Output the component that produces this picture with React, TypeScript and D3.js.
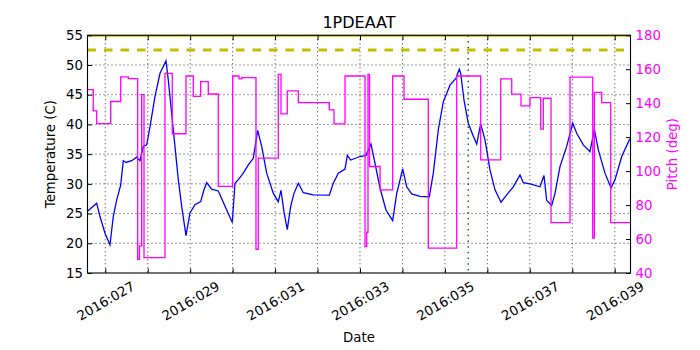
import React, { useEffect, useRef } from "react";
import * as d3 from "d3";

// temperature samples (day of year 2016, deg C)
const tempDays = [
  26.581, 26.797, 26.875, 26.993, 27.111, 27.188, 27.269, 27.363, 27.424, 27.488,
  27.622, 27.74, 27.817, 27.895, 27.975, 28.053, 28.171, 28.289, 28.43, 28.484,
  28.602, 28.72, 28.8, 28.901, 28.995, 29.113, 29.247, 29.325, 29.389, 29.506,
  29.662, 29.86, 29.992, 30.055, 30.133, 30.251, 30.369, 30.486, 30.59, 30.684,
  30.802, 30.958, 31.075, 31.139, 31.21, 31.287, 31.367, 31.445, 31.547, 31.664,
  31.9, 32.277, 32.371, 32.489, 32.647, 32.701, 32.781, 33.0, 33.141, 33.259,
  33.353, 33.471, 33.612, 33.77, 33.865, 34.006, 34.1, 34.218, 34.413, 34.633,
  34.727, 34.845, 34.962, 35.12, 35.262, 35.339, 35.372, 35.45, 35.551, 35.669,
  35.749, 35.843, 35.945, 36.062, 36.18, 36.322, 36.456, 36.611, 36.769, 36.847,
  37.005, 37.24, 37.334, 37.398, 37.516, 37.594, 37.711, 37.869, 38.011, 38.105,
  38.26, 38.418, 38.52, 38.614, 38.771, 38.913, 39.007, 39.165, 39.344, 39.372,
];
const tempValues = [
  25.4, 26.75, 24.5, 21.7, 19.75, 24.5, 27.3, 29.8, 33.9, 33.6,
  33.9, 34.5, 33.9, 36.3, 36.55, 39.6, 44.7, 48.6, 50.7, 47.5,
  39.1, 30.7, 26.2, 21.3, 25.1, 26.5, 27.0, 29.0, 30.2, 29.1,
  28.8, 25.6, 23.5, 30.1, 30.7, 31.8, 33.2, 34.3, 39.0, 36.3,
  31.8, 28.4, 27.0, 28.9, 25.3, 22.3, 26.2, 28.4, 30.1, 28.5,
  28.15, 28.1, 30.1, 31.8, 32.5, 34.8, 34.0, 34.6, 34.8, 36.7,
  33.5, 29.3, 25.6, 23.8, 28.4, 32.5, 29.5, 28.3, 27.9, 27.8,
  31.8, 39.1, 43.8, 46.6, 47.8, 49.3, 48.6, 44.1, 40.2, 38.0,
  36.7, 40.1, 37.4, 32.35, 29.0, 26.9, 28.15, 29.5, 31.5, 30.2,
  30.0, 29.5, 31.4, 27.2, 26.35, 28.4, 32.9, 36.3, 40.2, 38.5,
  36.55, 35.4, 39.2, 35.7, 31.8, 29.3, 30.7, 34.6, 37.4, 37.6,
];

// pitch attitude segments (start day, deg)
const pitchDays = [
  26.581, 26.717, 26.797, 27.127, 27.363, 27.542, 27.763, 27.806, 27.857, 27.912,
  28.406, 28.578, 28.901, 29.073, 29.247, 29.426, 29.662, 30.001, 30.15, 30.213,
  30.55, 30.604, 31.075, 31.139, 31.287, 31.547, 32.277, 32.388, 32.647, 33.118,
  33.158, 33.188, 33.225, 33.473, 33.77, 34.037, 34.609, 35.278, 35.843, 36.315,
  36.574, 36.793, 37.005, 37.257, 37.318, 37.5, 37.947, 38.482, 38.52, 38.694,
  38.906, 39.372,
];
const pitchValues = [
  148, 135.5, 128, 141, 155.5, 154.5, 48, 56, 145, 49,
  157.5, 122, 156, 144, 152.7, 145.4, 91, 156, 154.3, 155,
  54, 107.6, 157, 133.7, 147.2, 140.3, 136, 127.8, 156, 55.6,
  64, 157, 102.7, 89, 156, 142.3, 54.7, 156, 106.6, 154.3,
  145.3, 138.4, 143.3, 124.7, 142.9, 69.7, 155.3, 60.6, 146.4, 140.3,
  69.7, 69.7,
];

const dayTicks = [27, 28, 29, 30, 31, 32, 33, 34, 35, 36, 37, 38, 39];
const tempTicks = [15, 20, 25, 30, 35, 40, 45, 50, 55];
const pitchTicks = [40, 60, 80, 100, 120, 140, 160, 180];
const dayRange = [26.581, 39.372];
const planningLimit = 55;
const cautionLimit = 52.5;
const nowDay = 35.55;

const FONT = "DejaVu Sans, sans-serif";

const App = () => {
  const chartRef = useRef<SVGSVGElement>(null);

  useEffect(() => {
    drawChart();
  }, []);

  const drawChart = () => {
    const width = 700;
    const height = 350;
    const margin = { top: 35.25, right: 69.5, bottom: 77, left: 87.5 };
    const w = width - margin.left - margin.right;
    const h = height - margin.top - margin.bottom;

    const root = d3.select(chartRef.current);
    root.selectAll("*").remove();
    root
      .attr("width", width)
      .attr("height", height)
      .style("position", "absolute")
      .style("left", 0)
      .style("top", 0)
      .style("background", "#fff");

    const svg = root
      .append("g")
      .attr("transform", `translate(${margin.left},${margin.top})`);

    const x = d3.scaleLinear().domain(dayRange).range([0, w]);
    const y = d3.scaleLinear().domain([15, 55]).range([h, 0]);
    const y2 = d3.scaleLinear().domain([40, 180]).range([h, 0]);

    // dotted grid
    svg
      .append("g")
      .selectAll("line")
      .data(dayTicks)
      .join("line")
      .attr("x1", (d) => x(d))
      .attr("x2", (d) => x(d))
      .attr("y1", 0)
      .attr("y2", h)
      .attr("stroke", "#000")
      .attr("stroke-width", 0.8)
      .attr("stroke-dasharray", "1,3");
    svg
      .append("g")
      .selectAll("line")
      .data(tempTicks.slice(1, -1))
      .join("line")
      .attr("x1", 0)
      .attr("x2", w)
      .attr("y1", (d) => y(d))
      .attr("y2", (d) => y(d))
      .attr("stroke", "#000")
      .attr("stroke-width", 0.8)
      .attr("stroke-dasharray", "1,3");

    const lineTemp = d3
      .line<number>()
      .x((d, i) => x(tempDays[i]))
      .y((d) => y(d));

    svg
      .append("path")
      .datum(tempValues)
      .attr("fill", "none")
      .attr("stroke", "#0000ff")
      .attr("stroke-width", 1.3)
      .attr("d", lineTemp);

    // limits
    svg
      .append("line")
      .attr("x1", 0)
      .attr("x2", w)
      .attr("y1", y(cautionLimit))
      .attr("y2", y(cautionLimit))
      .attr("stroke", "#bfbf00")
      .attr("stroke-width", 3)
      .attr("stroke-dasharray", "8.5,8");
    svg
      .append("line")
      .attr("x1", 0)
      .attr("x2", w)
      .attr("y1", y(planningLimit) + 0.5)
      .attr("y2", y(planningLimit) + 0.5)
      .attr("stroke", "#bfbf00")
      .attr("stroke-width", 2);

    // current time marker
    svg
      .append("line")
      .attr("x1", x(nowDay))
      .attr("x2", x(nowDay))
      .attr("y1", 0)
      .attr("y2", h)
      .attr("stroke", "#008000")
      .attr("stroke-width", 1.5)
      .attr("stroke-dasharray", "1.5,4.2");

    const linePitch = d3
      .line<number>()
      .curve(d3.curveStepAfter)
      .x((d, i) => x(pitchDays[i]))
      .y((d) => y2(d));

    svg
      .append("path")
      .datum(pitchValues)
      .attr("fill", "none")
      .attr("stroke", "#ff00ff")
      .attr("stroke-width", 1.3)
      .attr("d", linePitch);

    // bottom axis
    const xAxis = svg
      .append("g")
      .attr("transform", `translate(0,${h})`)
      .call(
        d3
          .axisBottom(x)
          .tickValues(dayTicks)
          .tickSize(-4.5)
          .tickFormat((d) =>
            (d as number) % 2 === 1 ? `2016:${d3.format("03d")(d as number)}` : ""
          )
      );
    xAxis
      .selectAll("text")
      .attr("y", 0)
      .attr("dy", "0.35em")
      .attr("transform", "translate(0,28) rotate(-30)")
      .style("text-anchor", "middle");

    // top ticks only
    svg
      .append("g")
      .call(d3.axisTop(x).tickValues(dayTicks).tickSize(-5).tickFormat(() => ""));

    svg
      .append("g")
      .call(d3.axisLeft(y).tickValues(tempTicks).tickSize(-4.5).tickPadding(4.5));

    const rightAxis = svg
      .append("g")
      .attr("transform", `translate(${w},0)`)
      .call(d3.axisRight(y2).tickValues(pitchTicks).tickSize(-4.5).tickPadding(5));
    rightAxis.selectAll("text").attr("fill", "#ff00ff");

    svg.selectAll(".domain").remove();
    svg.selectAll(".tick text").style("font-family", FONT).style("font-size", "13.3px");
    svg.selectAll(".tick line").attr("stroke", "#000").attr("stroke-width", 1);

    // frame
    svg
      .append("rect")
      .attr("width", w)
      .attr("height", h)
      .attr("fill", "none")
      .attr("stroke", "#000")
      .attr("stroke-width", 1.1);

    // labels
    root
      .append("text")
      .attr("x", margin.left + w / 2)
      .attr("y", 28)
      .attr("text-anchor", "middle")
      .style("font-family", FONT)
      .style("font-size", "16px")
      .text("1PDEAAT");
    root
      .append("text")
      .attr("x", margin.left + w / 2)
      .attr("y", 342)
      .attr("text-anchor", "middle")
      .style("font-family", FONT)
      .style("font-size", "13.3px")
      .text("Date");
    root
      .append("text")
      .attr("transform", `translate(55,${margin.top + h / 2}) rotate(-90)`)
      .attr("text-anchor", "middle")
      .style("font-family", FONT)
      .style("font-size", "13.3px")
      .text("Temperature (C)");
    root
      .append("text")
      .attr("transform", `translate(677,${margin.top + h / 2}) rotate(-90)`)
      .attr("text-anchor", "middle")
      .attr("fill", "#ff00ff")
      .style("font-family", FONT)
      .style("font-size", "13.3px")
      .text("Pitch (deg)");
  };

  return <svg ref={chartRef}></svg>;
};

export default App;
